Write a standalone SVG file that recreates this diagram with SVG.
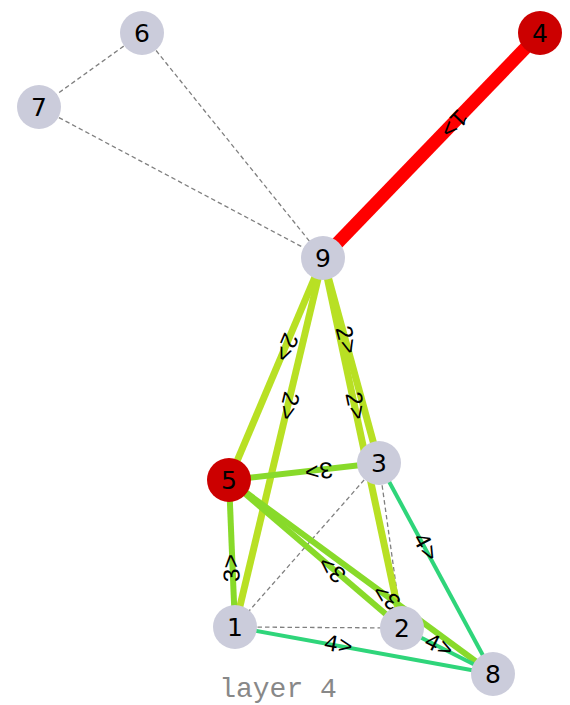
<svg xmlns="http://www.w3.org/2000/svg" width="570" height="705" viewBox="0 0 570 705">
<style>
.dash{stroke:#808080;stroke-width:1.3;stroke-dasharray:4.5,3;fill:none}
.e1{stroke:#ff0000;stroke-width:13;stroke-linecap:butt}
.e2{stroke:#b8e024;stroke-width:7}
.e3{stroke:#88da2a;stroke-width:6}
.e4{stroke:#2fd57a;stroke-width:4}
.el{font-family:"Liberation Mono",monospace;font-size:24px;fill:#000;text-anchor:middle;dominant-baseline:central}
.n circle{fill:#cbccdb}
.n.r circle{fill:#cc0000}
.n text{font-family:"DejaVu Sans",sans-serif;font-size:25px;fill:#000;text-anchor:middle;dominant-baseline:central}
.title{font-family:"Liberation Mono",monospace;font-size:28px;fill:#888888;text-anchor:middle}
</style>
<rect width="570" height="705" fill="#ffffff"/>
<g id="connectors">
<line class="dash" x1="142" y1="33" x2="39" y2="107"/>
<line class="dash" x1="142" y1="33" x2="323" y2="258"/>
<line class="dash" x1="39" y1="107" x2="323" y2="258"/>
<line class="dash" x1="379" y1="463" x2="235" y2="627"/>
<line class="dash" x1="379" y1="463" x2="402" y2="628"/>
<line class="dash" x1="235" y1="627" x2="402" y2="628"/>
<line class="e1" x1="540" y1="33" x2="323" y2="258"/>
<line class="e2" x1="323" y1="258" x2="229" y2="480"/>
<line class="e2" x1="323" y1="258" x2="235" y2="627"/>
<line class="e2" x1="323" y1="258" x2="379" y2="463"/>
<line class="e2" x1="323" y1="258" x2="402" y2="628"/>
<line class="e3" x1="379" y1="463" x2="229" y2="480"/>
<line class="e3" x1="235" y1="627" x2="229" y2="480"/>
<line class="e3" x1="402" y1="628" x2="229" y2="480"/>
<line class="e3" x1="493" y1="674" x2="229" y2="480"/>
<line class="e4" x1="379" y1="463" x2="493" y2="674"/>
<line class="e4" x1="235" y1="627" x2="493" y2="674"/>
<line class="e4" x1="402" y1="628" x2="493" y2="674"/>
<text class="el" transform="translate(453.2,123) rotate(133.96)">1&gt;</text>
<text class="el" transform="translate(285.4,346.8) rotate(112.95)">2&gt;</text>
<text class="el" transform="translate(287.8,405.6) rotate(103.4)">2&gt;</text>
<text class="el" transform="translate(345.4,340) rotate(74.7)">2&gt;</text>
<text class="el" transform="translate(354.6,406) rotate(77.95)">2&gt;</text>
<text class="el" transform="translate(319,469.8) rotate(173.5)">3&gt;</text>
<text class="el" transform="translate(232.6,568.2) rotate(-92.34)">3&gt;</text>
<text class="el" transform="translate(332.8,568.8) rotate(-139.45)">3&gt;</text>
<text class="el" transform="translate(387.4,596.4) rotate(-143.7)">3&gt;</text>
<text class="el" transform="translate(424.6,547.4) rotate(61.6)">4&gt;</text>
<text class="el" transform="translate(338.2,645.8) rotate(10.3)">4&gt;</text>
<text class="el" transform="translate(438.4,646.4) rotate(26.8)">4&gt;</text>
</g>
<g id="node-6" class="n"><circle cx="142" cy="33" r="22"/><text x="142" y="33">6</text></g>
<g id="node-7" class="n"><circle cx="39" cy="107" r="22"/><text x="39" y="107">7</text></g>
<g id="node-4" class="n r"><circle cx="540" cy="33" r="22"/><text x="540" y="33">4</text></g>
<g id="node-9" class="n"><circle cx="323" cy="258" r="22"/><text x="323" y="258">9</text></g>
<g id="node-5" class="n r"><circle cx="229" cy="480" r="22"/><text x="229" y="480">5</text></g>
<g id="node-3" class="n"><circle cx="379" cy="463" r="22"/><text x="379" y="463">3</text></g>
<g id="node-1" class="n"><circle cx="235" cy="627" r="22"/><text x="235" y="627">1</text></g>
<g id="node-2" class="n"><circle cx="402" cy="628" r="22"/><text x="402" y="628">2</text></g>
<g id="node-8" class="n"><circle cx="493" cy="674" r="22"/><text x="493" y="674">8</text></g>
<text class="title" x="278" y="697">layer 4</text>
</svg>
